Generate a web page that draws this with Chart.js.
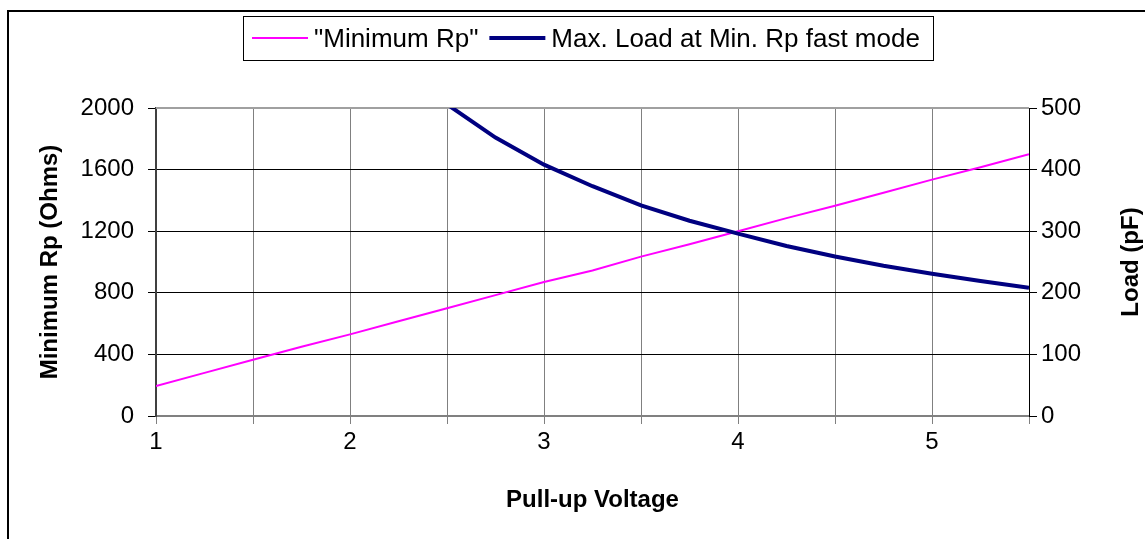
<!DOCTYPE html>
<html>
<head>
<meta charset="utf-8">
<script src="https://cdn.jsdelivr.net/npm/chart.js@4.4.1/dist/chart.umd.min.js"></script>
<style>
  html, body { margin: 0; padding: 0; background: #fff; }
  #wrap { width: 1145px; height: 539px; }
</style>
</head>
<body>
<div id="wrap"><canvas id="rpChart"></canvas></div>
<script>
// Pull-up voltage (V), 0.25 V steps
const voltages = [1, 1.25, 1.5, 1.75, 2, 2.25, 2.5, 2.75, 3, 3.25, 3.5, 3.75, 4, 4.25, 4.5, 4.75, 5, 5.25, 5.5];
// Minimum Rp (Ohms) - left axis
const minRp = [195, 280, 365, 450, 530, 615, 700, 785, 870, 945, 1035, 1115, 1200, 1285, 1365, 1450, 1535, 1615, 1700];
// Max. load (pF) at min. Rp - right axis, runs off the top below 2.5 V
const maxLoad = [null, null, null, null, null, null, 506, 452, 408, 373, 342, 317, 296, 276, 259, 244, 231, 219, 208];

// tick labels
const xTickValues = [1, 1.5, 2, 2.5, 3, 3.5, 4, 4.5, 5, 5.5];
const xLabels = [1, 2, 3, 4, 5];
const leftTicks = [0, 400, 800, 1200, 1600, 2000];
const rightTicks = [0, 100, 200, 300, 400, 500];

const FONT = 'Arial, "Liberation Sans", sans-serif';
const rightTitle = 'Load (pF)';

// frame, legend box and the right axis title (reads bottom to top)
const extras = {
    id: 'extras',
    beforeDraw(chart) {
        const ctx = chart.ctx;
        ctx.save();
        ctx.fillStyle = '#fff';
        ctx.fillRect(0, 0, chart.width, chart.height);
        ctx.strokeStyle = '#000';
        ctx.lineWidth = 2;
        ctx.strokeRect(8, 11, chart.width + 20, chart.height + 20);
        ctx.restore();
    },
    beforeDatasetsDraw(chart) {
        const { ctx, chartArea: a } = chart;
        ctx.save();
        ctx.strokeStyle = '#a0a0a0';
        ctx.lineWidth = 2;
        ctx.beginPath();
        ctx.moveTo(a.left, a.top);
        ctx.lineTo(a.right, a.top);
        ctx.stroke();
        ctx.restore();
    },
    afterDraw(chart) {
        const { ctx, chartArea: a } = chart;
        ctx.save();
        // legend
        ctx.fillStyle = '#fff';
        ctx.fillRect(243, 16, 690, 44);
        ctx.strokeStyle = '#000';
        ctx.lineWidth = 1;
        ctx.strokeRect(243.5, 16.5, 690, 44);
        ctx.font = '26px ' + FONT;
        ctx.textBaseline = 'alphabetic';
        let x = 252;
        chart.data.datasets.forEach(ds => {
            ctx.strokeStyle = ds.borderColor;
            ctx.lineWidth = ds.borderWidth;
            ctx.beginPath();
            ctx.moveTo(x, 38);
            ctx.lineTo(x + 56, 38);
            ctx.stroke();
            x += 62;
            ctx.fillStyle = '#000';
            ctx.fillText(ds.label, x, 47);
            x += ctx.measureText(ds.label).width + 11;
        });
        // right title
        ctx.font = 'bold 24px ' + FONT;
        ctx.translate(1131, (a.top + a.bottom) / 2);
        ctx.rotate(-Math.PI / 2);
        ctx.textAlign = 'center';
        ctx.textBaseline = 'middle';
        ctx.fillText(rightTitle, 0, 0);
        ctx.restore();
    }
};

const ctx = document.getElementById('rpChart').getContext('2d');
new Chart(ctx, {
    type: 'line',
    data: {
        datasets: [{
            label: '"Minimum Rp"',
            data: voltages.map((v, i) => ({ x: v, y: minRp[i] })),
            borderColor: '#ff00ff',
            borderWidth: 2,
            pointRadius: 0,
            tension: 0,
            yAxisID: 'y',
            order: 1
        }, {
            label: 'Max. Load at Min. Rp fast mode',
            data: voltages.map((v, i) => ({ x: v, y: maxLoad[i] })),
            borderColor: '#000080',
            borderWidth: 4,
            pointRadius: 0,
            tension: 0,
            yAxisID: 'y1',
            order: 0
        }]
    },
    options: {
        responsive: true,
        maintainAspectRatio: false,
        animation: false,
        devicePixelRatio: 1,
        layout: { padding: { top: 108, left: 0, right: 0, bottom: 0 } },
        plugins: {
            legend: { display: false },
            tooltip: { enabled: false }
        },
        scales: {
            x: {
                type: 'linear',
                min: 1,
                max: 5.5,
                afterBuildTicks: s => { s.ticks = xTickValues.map(v => ({ value: v })); },
                afterFit: s => { s.height = 123; },
                ticks: {
                    autoSkip: false,
                    maxRotation: 0,
                    padding: 4,
                    color: '#000',
                    font: { size: 24, family: FONT },
                    callback: v => xLabels.includes(v) ? String(v) : ''
                },
                grid: { color: '#808080', lineWidth: 1, tickLength: 8 },
                border: { color: '#808080', width: 2 },
                title: {
                    display: true,
                    text: 'Pull-up Voltage',
                    color: '#000',
                    font: { size: 24, weight: 'bold', family: FONT },
                    padding: { top: 0, bottom: 24 }
                }
            },
            y: {
                position: 'left',
                min: 0,
                max: 2000,
                afterBuildTicks: s => { s.ticks = leftTicks.map(v => ({ value: v })); },
                afterFit: s => { s.width = 156; },
                ticks: {
                    padding: 14,
                    color: '#000',
                    font: { size: 24, family: FONT },
                    callback: v => String(v)
                },
                grid: { color: '#000', lineWidth: 1, tickLength: 8 },
                border: { color: '#404040', width: 2 },
                title: {
                    display: true,
                    text: 'Minimum Rp (Ohms)',
                    color: '#000',
                    font: { size: 24, weight: 'bold', family: FONT },
                    padding: { top: 36, bottom: 0 }
                }
            },
            y1: {
                position: 'right',
                min: 0,
                max: 500,
                afterBuildTicks: s => { s.ticks = rightTicks.map(v => ({ value: v })); },
                afterFit: s => { s.width = 116; },
                ticks: {
                    padding: 4,
                    color: '#000',
                    font: { size: 24, family: FONT },
                    callback: v => String(v)
                },
                grid: { drawOnChartArea: false, color: '#000', tickLength: 8 },
                border: { color: '#000', width: 1 }
            }
        }
    },
    plugins: [extras]
});
</script>
</body>
</html>
